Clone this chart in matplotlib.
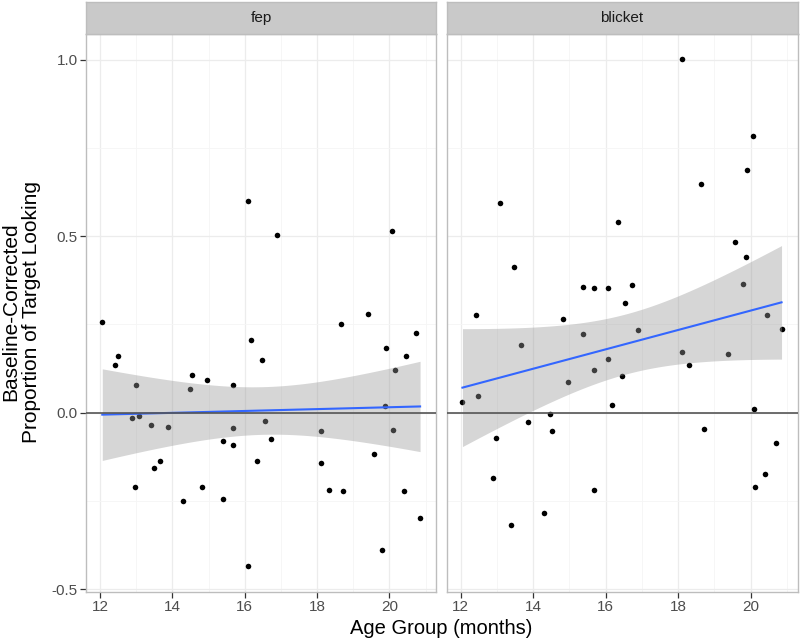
import numpy as np
import matplotlib
matplotlib.use("Agg")
import matplotlib.pyplot as plt

plt.rcParams['font.family'] = ['Liberation Sans', 'DejaVu Sans']

# age (months) and baseline-corrected proportion
fep_age = [12.06, 12.42, 12.50, 12.98, 12.88, 13.08, 12.96, 13.41, 13.48, 13.67,
           13.87, 14.30, 14.48, 14.53, 14.83, 14.95, 15.40, 15.40, 15.68, 15.68,
           15.68, 16.08, 16.18, 16.34, 16.47, 16.55, 16.74, 18.12, 18.12, 18.33,
           18.66, 18.72, 19.40, 19.57, 19.80, 19.88, 19.92, 20.11, 20.15, 20.41,
           20.47, 20.73, 20.85, 16.08, 16.90, 20.06]
fep_val = [0.257, 0.136, 0.161, 0.077, -0.014, -0.009, -0.210, -0.035, -0.158, -0.138,
           -0.042, -0.251, 0.067, 0.107, -0.212, 0.092, -0.080, -0.244, 0.078, -0.043,
           -0.092, -0.435, 0.207, -0.137, 0.150, -0.023, -0.074, -0.053, -0.143, -0.219,
           0.251, -0.221, 0.279, -0.118, -0.389, 0.018, 0.182, -0.050, 0.122, -0.223,
           0.161, 0.226, -0.299, 0.599, 0.504, 0.515]

blicket_age = [12.05, 12.42, 12.49, 12.97, 12.88, 13.40, 13.67, 13.87, 14.29, 14.47,
               14.52, 14.82, 14.95, 15.38, 15.67, 15.67, 16.07, 16.17, 16.45, 16.54,
               16.89, 18.10, 18.31, 18.71, 19.38, 20.08, 20.12, 20.38, 20.45, 20.71,
               20.85, 13.08, 13.48, 15.38, 15.67, 16.07, 16.34, 16.72, 18.10, 18.64,
               19.56, 19.78, 19.86, 19.89, 20.05]
blicket_val = [0.029, 0.276, 0.047, -0.072, -0.185, -0.319, 0.192, -0.027, -0.283, -0.005,
               -0.051, 0.265, 0.087, 0.223, 0.121, -0.218, 0.152, 0.023, 0.103, 0.312,
               0.235, 0.173, 0.135, -0.046, 0.166, 0.009, -0.210, -0.173, 0.277, -0.087,
               0.237, 0.595, 0.414, 0.355, 0.352, 0.354, 0.539, 0.362, 1.001, 0.648,
               0.483, 0.364, 0.442, 0.687, 0.783]

panels = ["fep", "blicket"]
x_ticks = [12, 14, 16, 18, 20]
y_ticks = [-0.5, 0.0, 0.5, 1.0]
T95 = 2.016  # t quantile, df ~ 44

def lm_fit(x, y, n=80):
    x = np.asarray(x); y = np.asarray(y)
    b, a = np.polyfit(x, y, 1)
    xs = np.linspace(x.min(), x.max(), n)
    fit = a + b * xs
    resid = y - (a + b * x)
    s = np.sqrt(np.sum(resid ** 2) / (len(x) - 2))
    se = s * np.sqrt(1 / len(x) + (xs - x.mean()) ** 2 / np.sum((x - x.mean()) ** 2))
    return xs, fit, fit - T95 * se, fit + T95 * se

all_x = np.array(fep_age + blicket_age)
all_y = np.array(fep_val + blicket_val)
xr = all_x.max() - all_x.min()
yr = all_y.max() - all_y.min()
xlim = (all_x.min() - 0.05 * xr, all_x.max() + 0.05 * xr)
ylim = (all_y.min() - 0.05 * yr, all_y.max() + 0.05 * yr)

fig = plt.figure(figsize=(8, 6.41), dpi=100)
W, H = 800.0, 641.0
bot = 1 - 591.5 / H
ht = 557.5 / H
border = '#bdbdbd'

lefts = [86 / W, 446.5 / W]
widths = [350 / W, 351 / W]
data = [(fep_age, fep_val), (blicket_age, blicket_val)]

for i, name in enumerate(panels):
    ax = fig.add_axes([lefts[i], bot, widths[i], ht])
    x, y = data[i]
    ax.set_xlim(xlim)
    ax.set_ylim(ylim)
    ax.set_xticks(x_ticks)
    ax.set_xticks(np.arange(13, 22, 2), minor=True)
    ax.set_yticks(y_ticks)
    ax.set_yticks([-0.25, 0.25, 0.75], minor=True)
    ax.grid(which='major', color='#ececec', linewidth=0.9)
    ax.grid(which='minor', color='#f5f5f5', linewidth=0.6)
    ax.set_axisbelow(True)

    ax.scatter(x, y, s=16, color='black', linewidths=0, zorder=2)
    xs, fit, lo, hi = lm_fit(x, y)
    ax.fill_between(xs, lo, hi, color='#999999', alpha=0.4, linewidth=0, zorder=3)
    ax.plot(xs, fit, color='#3366FF', linewidth=1.5, zorder=4)
    ax.axhline(0, color='#555555', linewidth=1.2, zorder=5)

    for sp in ax.spines.values():
        sp.set_color(border)
        sp.set_linewidth(1.0)
    ax.tick_params(which='major', length=4, width=0.9, color='#333333',
                   labelsize=11, labelcolor='#4d4d4d', pad=2)
    ax.tick_params(which='minor', length=0)
    ax.set_xticklabels([str(t) for t in x_ticks])
    if i == 0:
        ax.set_yticklabels(['-0.5', '0.0', '0.5', '1.0'])
    else:
        ax.tick_params(axis='y', which='both', left=False, labelleft=False)

    strip = fig.add_axes([lefts[i], 1 - 34 / H, widths[i], 32 / H])
    strip.set_facecolor('#c9c9c9')
    strip.set_xticks([])
    strip.set_yticks([])
    for sp in strip.spines.values():
        sp.set_color(border)
        sp.set_linewidth(1.0)
    strip.text(0.5, 0.5, name, ha='center', va='center', fontsize=11,
               color='#1a1a1a', transform=strip.transAxes)

fig.text((86 + 797) / 2 / W, 3 / H, 'Age Group (months)', ha='center', va='bottom',
         fontsize=14.5)
fig.text(21 / W, 1 - 312 / H, 'Baseline-Corrected\nProportion of Target Looking',
         ha='center', va='center', rotation=90, fontsize=15, linespacing=1.15)

fig.savefig('out.png', dpi=100)
